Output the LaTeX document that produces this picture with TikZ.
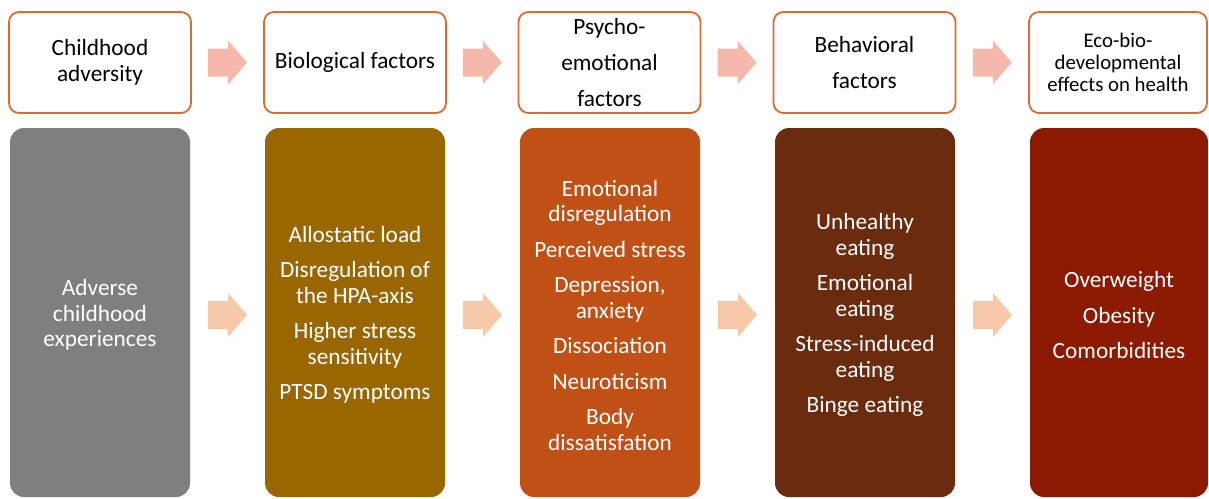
\documentclass[tikz,border=0pt]{standalone}
\usepackage{fontspec}
\setmainfont{Carlito}
\usetikzlibrary{calc}

\definecolor{frameor}{HTML}{DE6A31}
\definecolor{arrowtop}{HTML}{F4B9AA}
\definecolor{arrowbot}{HTML}{F8C8AA}
\definecolor{colgray}{HTML}{7F7F7F}
\definecolor{colgold}{HTML}{996600}
\definecolor{colorange}{HTML}{C05016}
\definecolor{colbrown}{HTML}{6A2B0E}
\definecolor{colred}{HTML}{8B1A00}

\tikzset{
  headbox/.style={draw=frameor, line width=1.8pt, fill=white, rounded corners=10pt,
    minimum width=182pt, minimum height=101pt, inner sep=0pt, align=center,
    font=\fontsize{23.3}{26}\selectfont},
  bodybox/.style={rounded corners=14pt, minimum width=180pt, minimum height=369pt,
    inner sep=0pt},
  bodytext/.style={inner sep=0pt, align=center, text=white,
    font=\fontsize{23.3}{25.5}\selectfont},
  blockarrow/.pic={\fill (-19.5,-14) -- (0.5,-14) -- (0.5,-22) -- (19.5,0)
    -- (0.5,22) -- (0.5,14) -- (-19.5,14) -- cycle;}
}

\begin{document}
\begin{tikzpicture}[x=1pt,y=-1pt]
\useasboundingbox (0,0) rectangle (1209,498);

% column headings
\node[headbox] (t1) at (100,62.5) {Childhood\\adversity};
\node[headbox] (t2) at (355,62.5) {Biological factors};
\node[headbox, font=\fontsize{23.3}{36}\selectfont] (t3) at (609.5,62.5) {Psycho-\\emotional\\factors};
\node[headbox, font=\fontsize{23.3}{36}\selectfont] (t4) at (864.5,62.5) {Behavioral\\factors};
\node[headbox, minimum width=178pt, font=\fontsize{20.8}{22}\selectfont] (t5) at (1118,62.5)
  {Eco-bio-\\developmental\\effects on health};

% column panels
\node[bodybox, fill=colgray] (b1) at (100,312.5) {};
\node[bodybox, fill=colgold] (b2) at (355,312.5) {};
\node[bodybox, fill=colorange] (b3) at (610,312.5) {};
\node[bodybox, fill=colbrown] (b4) at (865,312.5) {};
\node[bodybox, fill=colred, minimum width=178pt] (b5) at (1119,312.5) {};

% panel contents
\node[bodytext] (c1) at ($(b1.center)+(0,2.5)$) {Adverse\\childhood\\experiences};
\node[bodytext] (c2) at ($(b2.center)+(0,2.5)$)
  {Allostatic load\\[10pt]Disregulation of\\the HPA-axis\\[10pt]Higher stress\\sensitivity\\[10pt]PTSD symptoms};
\node[bodytext] (c3) at ($(b3.center)+(0,2.5)$)
  {Emotional\\disregulation\\[10pt]Perceived stress\\[10pt]Depression,\\anxiety\\[10pt]Dissociation\\[10pt]Neuroticism\\[10pt]Body\\dissatisfation};
\node[bodytext] (c4) at ($(b4.center)+(0,2.5)$)
  {Unhealthy\\eating\\[10pt]Emotional\\eating\\[10pt]Stress-induced\\eating\\[10pt]Binge eating};
\node[bodytext] (c5) at ($(b5.center)+(0,2.5)$)
  {Overweight\\[10pt]Obesity\\[10pt]Comorbidities};

% block arrows between the columns
\foreach \a/\b in {1/2,2/3,3/4,4/5}{
  \pic[fill=arrowtop] at ($(t\a.east)!0.5!(t\b.west)$) {blockarrow};
  \pic[fill=arrowbot] at ($(b\a.east)!0.5!(b\b.west)+(0,2.5)$) {blockarrow};
}
\end{tikzpicture}
\end{document}
